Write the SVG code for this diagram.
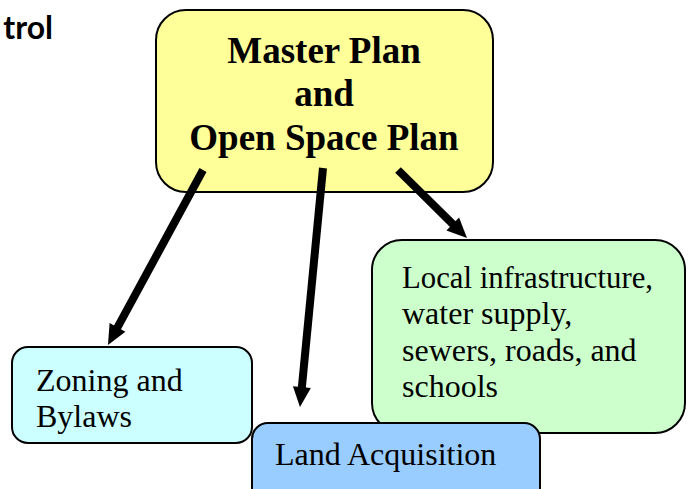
<svg xmlns="http://www.w3.org/2000/svg" width="691" height="489" viewBox="0 0 691 489">
<style>
.box{stroke:#000;stroke-width:2}
.t{font-family:"Liberation Serif","Times New Roman",serif;font-size:32px;fill:#000}
.title{font-family:"Liberation Serif","Times New Roman",serif;font-size:37px;font-weight:bold;fill:#000;text-anchor:middle}
.hdr{font-family:"Lato","Open Sans",sans-serif;font-size:32px;font-weight:bold;fill:#000;text-anchor:end}
.arr{stroke:#000;stroke-width:8;fill:none;marker-end:url(#ah)}
</style>
<defs>
<marker id="ah" markerUnits="userSpaceOnUse" markerWidth="20" markerHeight="18" refX="4" refY="9" orient="auto" overflow="visible">
<path d="M0,0 L20,9 L0,18 z" fill="#000"/>
</marker>
</defs>
<rect width="691" height="489" fill="#fff"/>
<text class="hdr" x="53" y="39">trol</text>
<g id="master">
<rect class="box" x="156" y="10" width="337" height="182" rx="30" ry="30" fill="#FFFF99"/>
<text class="title" x="324" y="63">Master Plan</text>
<text class="title" x="324" y="106">and</text>
<text class="title" x="324" y="150">Open Space Plan</text>
</g>
<g id="zoning">
<rect class="box" x="12" y="347" width="240" height="96" rx="16" ry="16" fill="#CCFFFF"/>
<text class="t" x="36" y="391">Zoning and</text>
<text class="t" x="36" y="427">Bylaws</text>
</g>
<g id="infra">
<rect class="box" x="372" y="240" width="313" height="193" rx="30" ry="30" fill="#CCFFCC"/>
<text class="t" x="402" y="288" textLength="251" lengthAdjust="spacingAndGlyphs">Local infrastructure,</text>
<text class="t" x="402" y="324">water supply,</text>
<text class="t" x="402" y="361">sewers, roads, and</text>
<text class="t" x="402" y="397">schools</text>
</g>
<g id="land">
<rect class="box" x="252" y="423" width="288" height="90" rx="16" ry="16" fill="#99CCFF"/>
<text class="t" x="275" y="465">Land Acquisition</text>
</g>
<g id="connectors">
<line class="arr" x1="203" y1="170" x2="115.6" y2="330.9"/>
<line class="arr" x1="323" y1="168" x2="301.5" y2="391.1"/>
<line class="arr" x1="398" y1="170" x2="455.6" y2="226.8"/>
</g>
</svg>
